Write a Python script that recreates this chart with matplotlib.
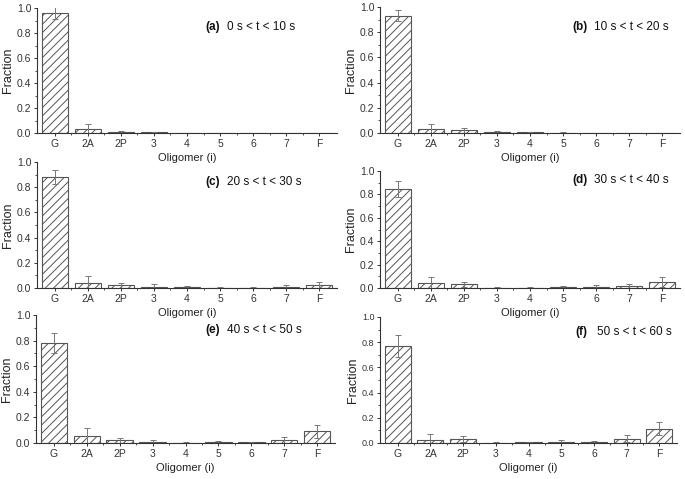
import matplotlib
matplotlib.use('Agg')
import matplotlib.pyplot as plt
import numpy as np

plt.rcParams['font.family'] = ['Liberation Sans', 'DejaVu Sans']
plt.rcParams['hatch.color'] = '#909090'
plt.rcParams['hatch.linewidth'] = 0.7

cats = ['G', '2A', '2P', '3', '4', '5', '6', '7', 'F']

# fractions and errors per time window
frac_a = [0.96, 0.030, 0.010, 0.005, 0.000, 0.000, 0.002, 0.002, 0.002]
err_a = [0.050, 0.040, 0.010, 0.005, 0.000, 0.000, 0.002, 0.002, 0.002]
frac_b = [0.93, 0.035, 0.022, 0.010, 0.004, 0.002, 0.000, 0.000, 0.000]
err_b = [0.045, 0.035, 0.020, 0.008, 0.004, 0.002, 0.000, 0.000, 0.000]
frac_c = [0.88, 0.040, 0.020, 0.010, 0.005, 0.003, 0.003, 0.008, 0.020]
err_c = [0.055, 0.055, 0.020, 0.020, 0.010, 0.005, 0.005, 0.012, 0.030]
frac_d = [0.845, 0.040, 0.030, 0.004, 0.004, 0.008, 0.012, 0.015, 0.050]
err_d = [0.070, 0.055, 0.020, 0.004, 0.005, 0.012, 0.010, 0.020, 0.045]
frac_e = [0.78, 0.055, 0.020, 0.008, 0.002, 0.007, 0.005, 0.025, 0.090]
err_e = [0.080, 0.065, 0.020, 0.015, 0.003, 0.012, 0.005, 0.025, 0.050]
frac_f = [0.77, 0.025, 0.030, 0.002, 0.005, 0.007, 0.008, 0.035, 0.115]
err_f = [0.090, 0.045, 0.025, 0.002, 0.005, 0.015, 0.008, 0.030, 0.050]

tags = ['(a)', '(b)', '(c)', '(d)', '(e)', '(f)']
windows = ['0 s < t < 10 s', '10 s < t < 20 s', '20 s < t < 30 s',
           '30 s < t < 40 s', '40 s < t < 50 s', '50 s < t < 60 s']
fracs = [frac_a, frac_b, frac_c, frac_d, frac_e, frac_f]
errs = [err_a, err_b, err_c, err_d, err_e, err_f]

W, H = 685, 479
fig = plt.figure(figsize=(W / 100, H / 100), dpi=100)

# axes boxes in pixels: left, top, right, bottom
boxes = [(37, 8, 337, 133), (380, 7, 680, 133),
         (37, 162, 337, 288), (380, 171, 680, 288),
         (36, 315, 335, 443), (380, 317, 677, 443)]
# text spot in pixels
tpos = [(205, 27), (572, 27), (205, 182), (572, 180), (205, 330), (575, 332)]

x = np.arange(len(cats))
for i in range(6):
    l, t, r, b = boxes[i]
    ax = fig.add_axes([l / W, 1 - b / H, (r - l) / W, (b - t) / H])
    ax.set_facecolor('none')
    ax.bar(x, fracs[i], width=0.8, color='white', edgecolor='#555555',
           linewidth=0.8, hatch='////')
    ax.errorbar(x, fracs[i], yerr=errs[i], fmt='none', ecolor='#777777',
                elinewidth=0.7, capsize=2, capthick=0.7)
    ax.set_xlim(-0.54, 8.54)
    ax.set_ylim(0, 1.0)
    ax.set_xticks(x)
    ax.set_xticklabels(cats)
    ax.set_xticks(x[:-1] + 0.5, minor=True)
    ax.set_yticks([0, 0.2, 0.4, 0.6, 0.8, 1.0])
    ax.set_yticks([0.1, 0.3, 0.5, 0.7, 0.9], minor=True)
    ax.yaxis.set_major_formatter(plt.FormatStrFormatter('%.1f'))
    ax.spines['top'].set_visible(False)
    ax.spines['right'].set_visible(False)
    for s in ['left', 'bottom']:
        ax.spines[s].set_color('#333333')
        ax.spines[s].set_linewidth(0.8)
    ax.tick_params(which='major', length=2.5, width=0.7, labelsize=7.5, pad=1.5,
                   colors='#333333')
    ax.tick_params(which='minor', length=1.5, width=0.6, colors='#333333')
    if i == 5:
        # last panel has smaller y tick labels
        ax.tick_params(axis='y', labelsize=6.5)
    ax.set_xlabel('Oligomer (i)', fontsize=8, color='#222222', labelpad=3)
    ax.set_ylabel('Fraction', fontsize=9, color='#222222', labelpad=2)
    tx, ty = tpos[i]
    fig.text(tx / W, 1 - ty / H, tags[i], fontsize=8.5, fontweight='bold',
             va='center', color='#111111')
    fig.text((tx + 22) / W, 1 - ty / H, windows[i], fontsize=8.5,
             va='center', color='#111111')

fig.savefig('out.png', dpi=100)
